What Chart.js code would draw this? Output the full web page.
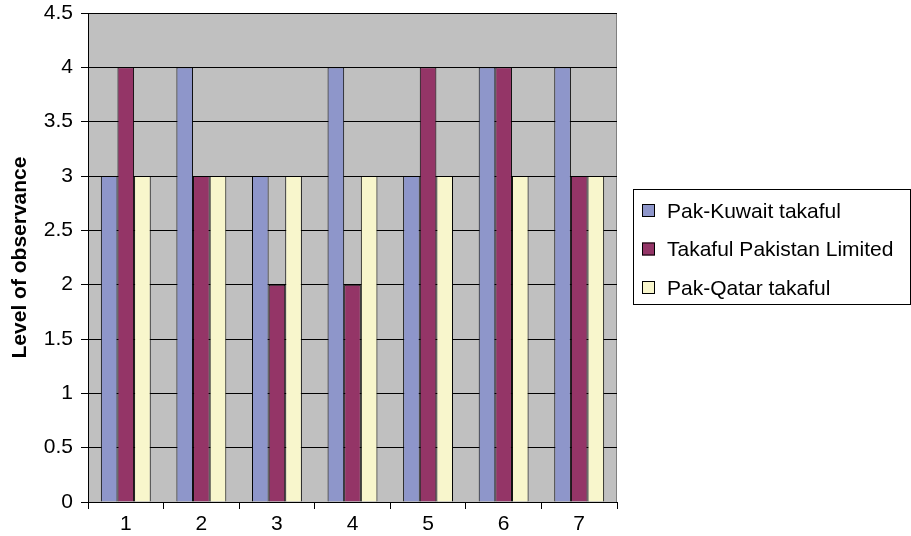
<!DOCTYPE html>
<html>
<head>
<meta charset="utf-8">
<script src="https://cdn.jsdelivr.net/npm/chart.js@4"></script>
<style>
  html, body { margin: 0; padding: 0; background: #fff; }
  #wrap { width: 911px; height: 536px; position: relative; }
</style>
</head>
<body>
<div id="wrap"><canvas id="chart"></canvas></div>
<script>
const categories = ["1", "2", "3", "4", "5", "6", "7"];
const pakKuwait = [3, 4, 3, 4, 3, 4, 4];
const takafulPakistan = [4, 3, 2, 2, 4, 4, 3];
const pakQatar = [3, 3, 3, 3, 3, 3, 3];
const seriesNames = ["Pak-Kuwait takaful", "Takaful Pakistan Limited", "Pak-Qatar takaful"];
const seriesColors = ["#8e96ca", "#943567", "#f8f6cc"];
const yTitle = "Level of observance";

const fontFamily = "'Liberation Sans', Arial, sans-serif";

// grey plot area with a thin grey frame, like the old Excel default
const plotBackground = {
  id: "plotBackground",
  beforeDraw(chart) {
    const { ctx, chartArea: a } = chart;
    ctx.save();
    ctx.fillStyle = "#c0c0c0";
    ctx.fillRect(a.left, a.top, a.right - a.left, a.bottom - a.top);
    ctx.strokeStyle = "#808080";
    ctx.lineWidth = 1;
    ctx.beginPath();
    ctx.moveTo(a.left, a.top + 0.5);
    ctx.lineTo(a.right - 0.5, a.top + 0.5);
    ctx.lineTo(a.right - 0.5, a.bottom);
    ctx.stroke();
    ctx.restore();
  },
};

// boxed legend on the right
const boxLegend = {
  id: "boxLegend",
  afterDraw(chart) {
    const { ctx } = chart;
    const box = { x: 633.5, y: 189.5, w: 277, h: 115 };
    ctx.save();
    ctx.strokeStyle = "#000";
    ctx.lineWidth = 1;
    ctx.strokeRect(box.x, box.y, box.w, box.h);
    ctx.font = "21px " + fontFamily;
    ctx.textBaseline = "middle";
    chart.data.datasets.forEach((ds, i) => {
      const cy = 211 + i * 38.5;
      ctx.fillStyle = ds.backgroundColor;
      ctx.fillRect(642, cy - 7, 13, 13);
      ctx.strokeRect(642.5, cy - 6.5, 12, 12);
      ctx.fillStyle = "#000";
      ctx.fillText(ds.label, 667, cy + 1);
    });
    ctx.restore();
  },
};

const datasets = [pakKuwait, takafulPakistan, pakQatar].map((values, i) => ({
  label: seriesNames[i],
  data: values,
  backgroundColor: seriesColors[i],
  borderColor: "#000",
  borderWidth: 1,
  categoryPercentage: 0.66,
  barPercentage: 1,
}));

new Chart(document.getElementById("chart"), {
  type: "bar",
  data: { labels: categories, datasets },
  options: {
    responsive: true,
    maintainAspectRatio: false,
    animation: false,
    layout: { padding: { top: 13, right: 294, left: 0, bottom: 0 } },
    plugins: { legend: { display: false }, tooltip: { enabled: false } },
    scales: {
      x: {
        grid: { offset: true, drawOnChartArea: false, color: "#000", tickLength: 7 },
        border: { color: "#000" },
        ticks: { color: "#000", font: { family: fontFamily, size: 21 }, padding: 3 },
        afterFit(scale) { scale.height = 34; },
      },
      y: {
        min: 0,
        max: 4.5,
        ticks: {
          stepSize: 0.5,
          color: "#000",
          font: { family: fontFamily, size: 21 },
          padding: 8,
          callback: (value) => String(value),
        },
        grid: { color: "#000", tickLength: 7 },
        border: { color: "#000" },
        title: {
          display: true,
          text: yTitle,
          color: "#000",
          font: { family: fontFamily, size: 21, weight: "bold" },
          padding: { top: 8, bottom: 0 },
        },
        afterFit(scale) {
          scale.width = 88;
          scale.paddingTop = 0;
          scale.paddingBottom = 0;
        },
      },
    },
  },
  plugins: [plotBackground, boxLegend],
});
</script>
</body>
</html>
